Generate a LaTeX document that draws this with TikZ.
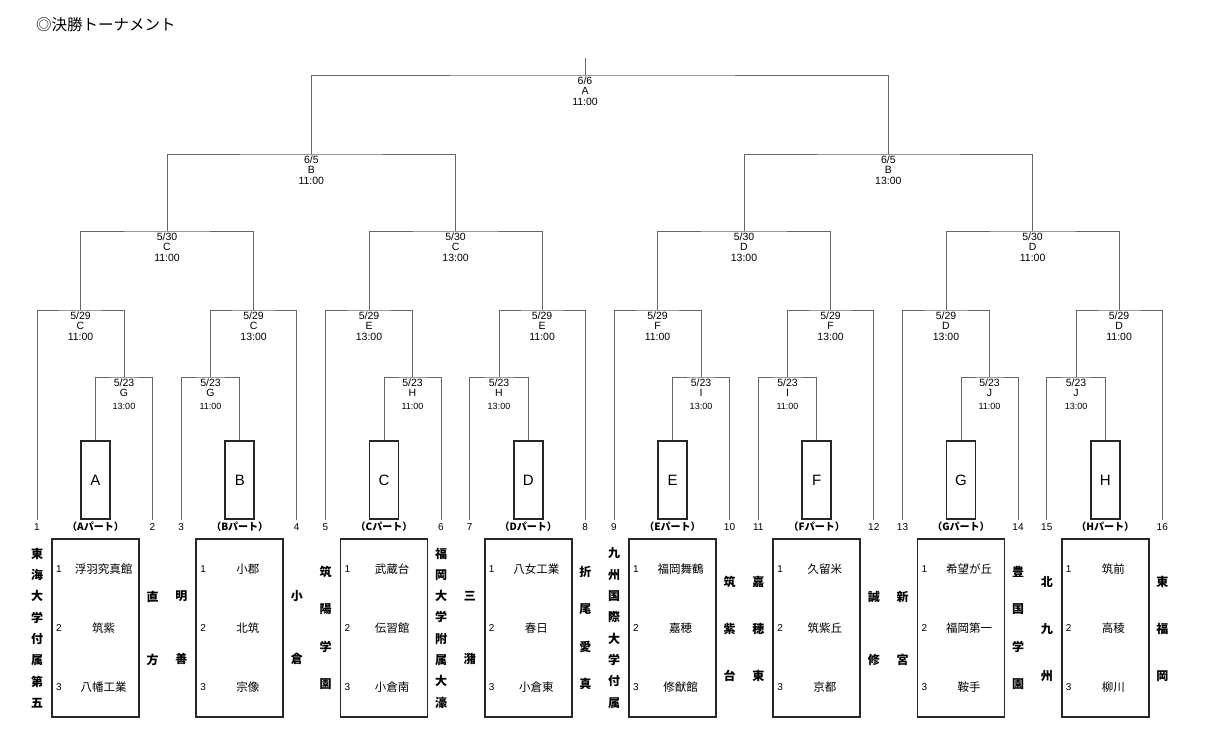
\documentclass[tikz,border=0pt]{standalone}
\usepackage{fontspec}
\setmainfont{Liberation Sans}
\newfontfamily\jp{Noto Sans CJK JP}

\begin{document}
\begin{tikzpicture}[
    x=1pt, y=-1pt,
    line/.style={draw=black!60, line width=0.9pt},
    partbox/.style={draw=black!85, line width=1.6pt, minimum width=29pt, minimum height=78pt, inner sep=0pt, font=\fontsize{15}{15}\selectfont},
    listbox/.style={draw=black!85, line width=1.6pt, minimum width=87pt, minimum height=178pt, inner sep=0pt},
    partlbl/.style={font=\jp\bfseries\fontsize{10}{10}\selectfont, inner sep=0pt},
    num/.style={font=\fontsize{10}{10}\selectfont, inner sep=3pt},
    match/.style={below, align=center, inner sep=1.5pt, font=\fontsize{10.5}{10.5}\selectfont},
    vname/.style={font=\jp\bfseries\fontsize{12}{#1}\selectfont, align=center, inner sep=0pt},
    team/.style={font=\jp\fontsize{11.5}{11.5}\selectfont, inner sep=0pt},
    seed/.style={font=\fontsize{10}{10}\selectfont, inner sep=0pt}
]
    \useasboundingbox (0,0) rectangle (1208,746);

    % Title
    \node[anchor=west, inner sep=0pt, font=\jp\fontsize{15.5}{15.5}\selectfont] (title) at (36,25) {◎決勝トーナメント};

    % Slots
    \foreach \i/\x in {1/37,2/152.5,3/181.25,4/296.75,5/325.5,6/441,7/469.75,8/585.25,
        9/614,10/729.5,11/758.25,12/873.75,13/902.5,14/1018,15/1046.75,16/1162.25}
        \node[num] (t\i) at (\x,527) {\i};

    % Parts and their boxes
    \foreach \p/\x/\ta/\tb/\tc in {A/95.5/浮羽究真館/筑紫/八幡工業, B/239.75/小郡/北筑/宗像,
        C/384/武蔵台/伝習館/小倉南, D/528.25/八女工業/春日/小倉東,
        E/672.5/福岡舞鶴/嘉穂/修猷館, F/816.75/久留米/筑紫丘/京都,
        G/961/希望が丘/福岡第一/鞍手, H/1105.25/筑前/高稜/柳川} {
        \node[partbox] (p\p) at (\x,480) {\p};
        \node[partlbl] (l\p) at (\x,527) {（\p パート）};
        \node[listbox] (b\p) at (\x,628) {};
        \node[seed] (s1\p) at (\x-36.5,569) {1};
        \node[seed] (s2\p) at (\x-36.5,628) {2};
        \node[seed] (s3\p) at (\x-36.5,687) {3};
        \node[team] (n1\p) at (\x+8,569) {\ta};
        \node[team] (n2\p) at (\x+8,628) {\tb};
        \node[team] (n3\p) at (\x+8,687) {\tc};
    }

    % Seeded schools
    \node[vname=21.3] (nm1) at (37,628) {東\\海\\大\\学\\付\\属\\第\\五};
    \node[vname=63] (nm2) at (152.5,628) {直\\方};
    \node[vname=63] (nm3) at (181.25,628) {明\\善};
    \node[vname=63] (nm4) at (296.75,628) {小\\倉};
    \node[vname=37.5] (nm5) at (325.5,628) {筑\\陽\\学\\園};
    \node[vname=21.3] (nm6) at (441,628) {福\\岡\\大\\学\\附\\属\\大\\濠};
    \node[vname=63] (nm7) at (469.75,628) {三\\潴};
    \node[vname=37.5] (nm8) at (585.25,628) {折\\尾\\愛\\真};
    \node[vname=21.3] (nm9) at (614,628) {九\\州\\国\\際\\大\\学\\付\\属};
    \node[vname=47] (nm10) at (729.5,629) {筑\\紫\\台};
    \node[vname=47] (nm11) at (758.25,629) {嘉\\穂\\東};
    \node[vname=63] (nm12) at (873.75,628) {誠\\修};
    \node[vname=63] (nm13) at (902.5,628) {新\\宮};
    \node[vname=37.5] (nm14) at (1018,628) {豊\\国\\学\\園};
    \node[vname=47] (nm15) at (1046.75,629) {北\\九\\州};
    \node[vname=47] (nm16) at (1162.25,629) {東\\福\\岡};

    % Junctions
    \coordinate (r1A) at (124,377);      \coordinate (r2A) at (80.5,310);
    \coordinate (r1B) at (210.5,377);    \coordinate (r2B) at (253.6,310);
    \coordinate (r1C) at (412.5,377);    \coordinate (r2C) at (369,310);
    \coordinate (r1D) at (499,377);      \coordinate (r2D) at (542.1,310);
    \coordinate (r1E) at (701,377);      \coordinate (r2E) at (657.5,310);
    \coordinate (r1F) at (787.5,377);    \coordinate (r2F) at (830.6,310);
    \coordinate (r1G) at (989.5,377);    \coordinate (r2G) at (946,310);
    \coordinate (r1H) at (1076,377);     \coordinate (r2H) at (1119.1,310);
    \coordinate (r3a) at (167,231);      \coordinate (r3b) at (455.6,231);
    \coordinate (r3c) at (744,231);      \coordinate (r3d) at (1032.6,231);
    \coordinate (r4a) at (311.3,154);    \coordinate (r4b) at (888.3,154);
    \coordinate (fin) at (585,75);       \coordinate (top) at (585,58);

    % First round and second round
    \draw[line] (pA.north) |- (r1A) -| (t2.north);
    \draw[line] (r1A) |- (r2A) -| (t1.north);
    \draw[line] (t3.north) |- (r1B) -| (pB.north);
    \draw[line] (r1B) |- (r2B) -| (t4.north);
    \draw[line] (pC.north) |- (r1C) -| (t6.north);
    \draw[line] (r1C) |- (r2C) -| (t5.north);
    \draw[line] (t7.north) |- (r1D) -| (pD.north);
    \draw[line] (r1D) |- (r2D) -| (t8.north);
    \draw[line] (pE.north) |- (r1E) -| (t10.north);
    \draw[line] (r1E) |- (r2E) -| (t9.north);
    \draw[line] (t11.north) |- (r1F) -| (pF.north);
    \draw[line] (r1F) |- (r2F) -| (t12.north);
    \draw[line] (pG.north) |- (r1G) -| (t14.north);
    \draw[line] (r1G) |- (r2G) -| (t13.north);
    \draw[line] (t15.north) |- (r1H) -| (pH.north);
    \draw[line] (r1H) |- (r2H) -| (t16.north);

    % Later rounds
    \draw[line] (r2A) |- (r3a) -| (r2B);
    \draw[line] (r2C) |- (r3b) -| (r2D);
    \draw[line] (r2E) |- (r3c) -| (r2F);
    \draw[line] (r2G) |- (r3d) -| (r2H);
    \draw[line] (r3a) |- (r4a) -| (r3b);
    \draw[line] (r3c) |- (r4b) -| (r3d);
    \draw[line] (r4a) |- (fin) -| (r4b);
    \draw[line] (fin) -- (top);

    % Dates
    \node[match] (d1A) at (r1A) {5/23\\G\\[2pt]{\fontsize{9}{9}\selectfont 13:00}};
    \node[match] (d1B) at (r1B) {5/23\\G\\[2pt]{\fontsize{9}{9}\selectfont 11:00}};
    \node[match] (d1C) at (r1C) {5/23\\H\\[2pt]{\fontsize{9}{9}\selectfont 11:00}};
    \node[match] (d1D) at (r1D) {5/23\\H\\[2pt]{\fontsize{9}{9}\selectfont 13:00}};
    \node[match] (d1E) at (r1E) {5/23\\I\\[2pt]{\fontsize{9}{9}\selectfont 13:00}};
    \node[match] (d1F) at (r1F) {5/23\\I\\[2pt]{\fontsize{9}{9}\selectfont 11:00}};
    \node[match] (d1G) at (r1G) {5/23\\J\\[2pt]{\fontsize{9}{9}\selectfont 11:00}};
    \node[match] (d1H) at (r1H) {5/23\\J\\[2pt]{\fontsize{9}{9}\selectfont 13:00}};
    \node[match] (d2A) at (r2A) {5/29\\C\\11:00};
    \node[match] (d2B) at (r2B) {5/29\\C\\13:00};
    \node[match] (d2C) at (r2C) {5/29\\E\\13:00};
    \node[match] (d2D) at (r2D) {5/29\\E\\11:00};
    \node[match] (d2E) at (r2E) {5/29\\F\\11:00};
    \node[match] (d2F) at (r2F) {5/29\\F\\13:00};
    \node[match] (d2G) at (r2G) {5/29\\D\\13:00};
    \node[match] (d2H) at (r2H) {5/29\\D\\11:00};
    \node[match] (d3a) at (r3a) {5/30\\C\\11:00};
    \node[match] (d3b) at (r3b) {5/30\\C\\13:00};
    \node[match] (d3c) at (r3c) {5/30\\D\\13:00};
    \node[match] (d3d) at (r3d) {5/30\\D\\11:00};
    \node[match] (d4a) at (r4a) {6/5\\B\\11:00};
    \node[match] (d4b) at (r4b) {6/5\\B\\13:00};
    \node[match] (dfin) at (fin) {6/6\\A\\11:00};
\end{tikzpicture}
\end{document}
